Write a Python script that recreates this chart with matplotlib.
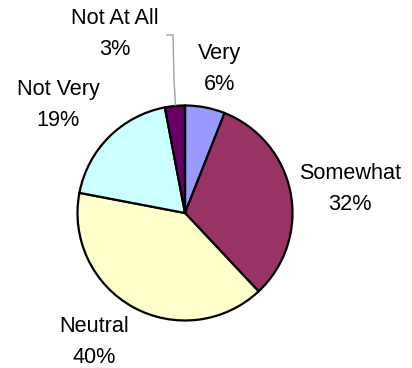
import matplotlib.pyplot as plt

# Data
categories = ['Very', 'Somewhat', 'Neutral', 'Not Very', 'Not At All']
percents = [6, 32, 40, 19, 3]
colors = ['#9999FF', '#993366', '#FFFFCC', '#CCFFFF', '#660066']

# Label positions in pixel coords (x, y from top)
label_pos = [(220, 69), (350, 189), (94, 342), (58, 105), (115, 34)]

plt.rcParams['font.family'] = ['Liberation Sans', 'DejaVu Sans']

fig = plt.figure(figsize=(4.12, 3.68), dpi=100)
ax = fig.add_axes([0, 0, 1, 1])

H = 368
ax.pie(percents, colors=colors, startangle=90, counterclock=False,
       center=(185, H - 213), radius=107.5, frame=True,
       wedgeprops=dict(edgecolor='black', linewidth=1.6))
ax.set_xlim(0, 412)
ax.set_ylim(0, 368)
ax.set_aspect('equal')
ax.axis('off')

for cat, pct, (px, py) in zip(categories, percents, label_pos):
    ax.text(px, H - py, f'{cat}\n{pct}%', ha='center', va='center',
            fontsize=15.6, linespacing=1.6, color='black')

# leader line for the small slice
ax.plot([167, 173, 174, 175.5], [H - 35, H - 35, H - 80, H - 105],
        color='#A0A0A0', lw=1.0)

fig.savefig('out.png', dpi=100)
